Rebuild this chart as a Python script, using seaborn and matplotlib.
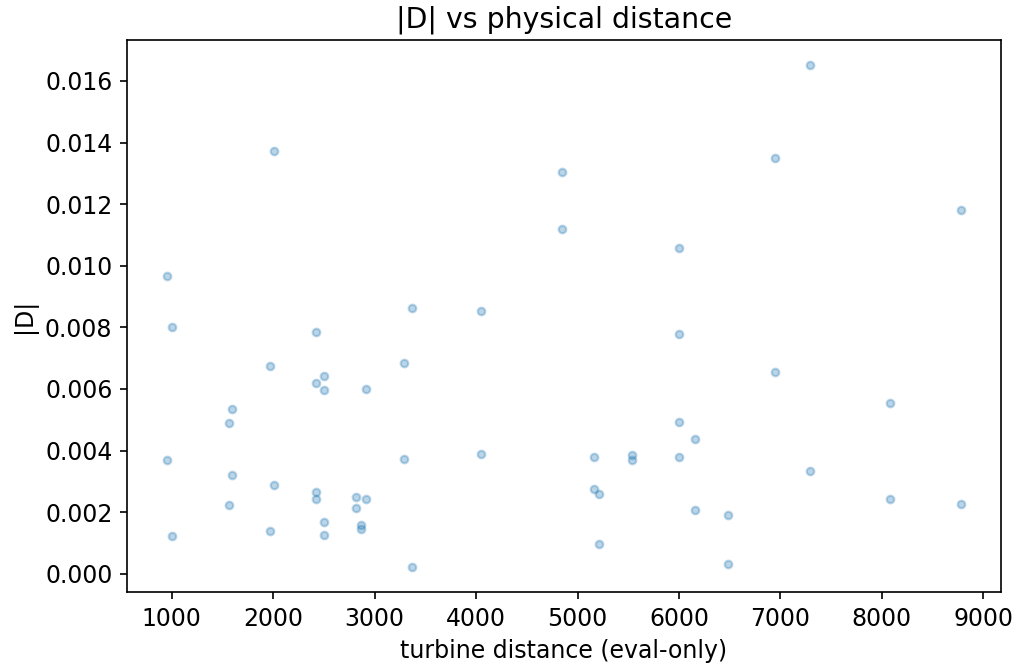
import numpy as np
import pandas as pd
import matplotlib
matplotlib.use("Agg")
import matplotlib.pyplot as plt
import seaborn as sns

# turbine pair distances (m) and |D| values
distance = [
    950, 950, 1005, 1005, 1565, 1565, 1591, 1591, 1966, 1966,
    2005, 2005, 2425, 2425, 2425, 2425, 2498, 2498, 2498, 2498,
    2813, 2813, 2869, 2869, 2918, 2918, 3289, 3289, 3365, 3365,
    4044, 4044, 4842, 4842, 5161, 5161, 5210, 5210, 5535, 5535,
    6002, 6002, 6002, 6002, 6160, 6160, 6478, 6478, 6944, 6944,
    7289, 7289, 8081, 8081, 8780, 8780,
]
abs_d = [
    0.00967, 0.00369, 0.00800, 0.00123, 0.00491, 0.00222, 0.00535, 0.00319, 0.00676, 0.00139,
    0.01372, 0.00287, 0.00785, 0.00618, 0.00264, 0.00242, 0.00642, 0.00596, 0.00169, 0.00126,
    0.00250, 0.00212, 0.00158, 0.00145, 0.00599, 0.00242, 0.00685, 0.00372, 0.00863, 0.00022,
    0.00854, 0.00390, 0.01305, 0.01120, 0.00379, 0.00274, 0.00259, 0.00098, 0.00384, 0.00369,
    0.01058, 0.00777, 0.00494, 0.00379, 0.00436, 0.00207, 0.00191, 0.00031, 0.01351, 0.00655,
    0.01651, 0.00335, 0.00553, 0.00242, 0.01181, 0.00228,
]

df = pd.DataFrame({"distance": distance, "abs_d": abs_d})

plt.rcParams["font.size"] = 11.35
plt.rcParams["axes.titlesize"] = 13.6

fig, ax = plt.subplots(figsize=(1016 / 150, 669 / 150), dpi=150)
sns.scatterplot(
    data=df, x="distance", y="abs_d", ax=ax,
    color="#1f77b4", edgecolor="#1f77b4", linewidth=1.1, s=13, alpha=0.3,
)
ax.set_xlabel("turbine distance (eval-only)")
ax.set_ylabel("|D|")
ax.set_title("|D| vs physical distance")
ax.set_xticks(np.arange(1000, 9001, 1000))
ax.set_yticks(np.arange(0, 0.0161, 0.002))
ax.yaxis.set_major_formatter(matplotlib.ticker.FormatStrFormatter("%.3f"))

fig.subplots_adjust(left=0.125, right=0.985, top=0.940, bottom=0.115)
fig.savefig("out.png", dpi=150)
